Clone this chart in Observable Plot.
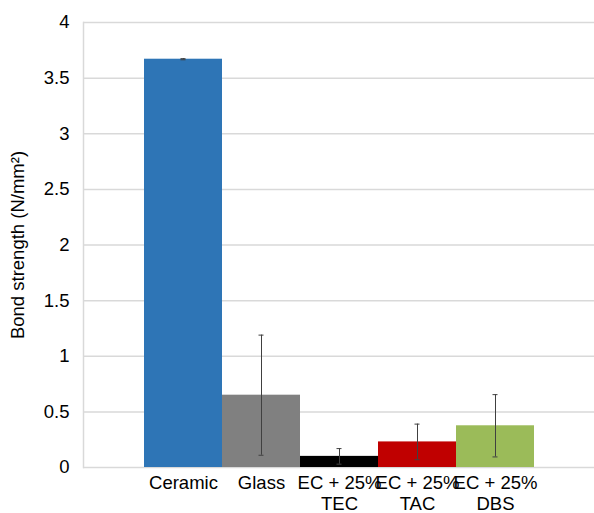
<!DOCTYPE html>
<html>
<head>
<meta charset="utf-8">
<script src="https://cdn.jsdelivr.net/npm/d3@7"></script>
<script src="https://cdn.jsdelivr.net/npm/@observablehq/plot@0.6"></script>
<style>
  body { margin: 0; background: #fff; }
  svg { font-family: "Liberation Sans", Arial, Helvetica, sans-serif; }
</style>
</head>
<body>
<div id="chart"></div>
<script>
const categories = ["Ceramic", "Glass", "EC + 25%\nTEC", "EC + 25%\nTAC", "EC + 25%\nDBS"];
const values = [3.67, 0.65, 0.10, 0.23, 0.375];
const errors = [0.005, 0.54, 0.07, 0.16, 0.28];
const colors = ["#2E75B6", "#808080", "#000000", "#C00000", "#9BBB59"];
const yTicks = [0, 0.5, 1, 1.5, 2, 2.5, 3, 3.5, 4];
const yTickLabels = ["0", "0.5", "1", "1.5", "2", "2.5", "3", "3.5", "4"];
const yLabel = "Bond strength (N/mm²)";

const data = categories.map((c, i) => ({cat: c, v: values[i], e: errors[i], color: colors[i]}));

const chart = Plot.plot({
  width: 594,
  height: 513,
  marginLeft: 83,
  marginRight: 0,
  marginTop: 22,
  marginBottom: 46,
  style: {fontFamily: '"Liberation Sans", Arial, Helvetica, sans-serif', fontSize: "18.5px", color: "#000", background: "#fff"},
  x: {domain: categories, paddingInner: 0, paddingOuter: 0.76, label: null},
  y: {domain: [0, 4], label: null},
  marks: [
    Plot.gridY(yTicks, {stroke: "#d9d9d9", strokeOpacity: 1, strokeWidth: 1.5}),
    Plot.frame({anchor: "left", stroke: "#d9d9d9", strokeWidth: 1.5}),
    Plot.barY(data, {x: "cat", y: "v", fill: "color"}),
    Plot.ruleX(data, {x: "cat", y1: d => d.v - d.e, y2: d => d.v + d.e, stroke: "#404040", strokeWidth: 1}),
    Plot.tickY(data, {x: "cat", y: d => d.v + d.e, stroke: "#404040", strokeWidth: 1, insetLeft: 36.5, insetRight: 36.5}),
    Plot.tickY(data, {x: "cat", y: d => d.v - d.e, stroke: "#404040", strokeWidth: 1, insetLeft: 36.5, insetRight: 36.5}),
    Plot.axisY(yTicks, {tickSize: 0, tickPadding: 14, tickFormat: (d, i) => yTickLabels[i], fontSize: 18.5, label: null}),
    Plot.axisX({tickSize: 0, tickPadding: 6, fontSize: 18.5, label: null, lineHeight: 1.15}),
    Plot.text([yLabel], {frameAnchor: "left", textAnchor: "middle", dx: -65, rotate: -90, fontSize: 18.5, fill: "#000"})
  ]
});
document.getElementById("chart").appendChild(chart);
</script>
</body>
</html>
